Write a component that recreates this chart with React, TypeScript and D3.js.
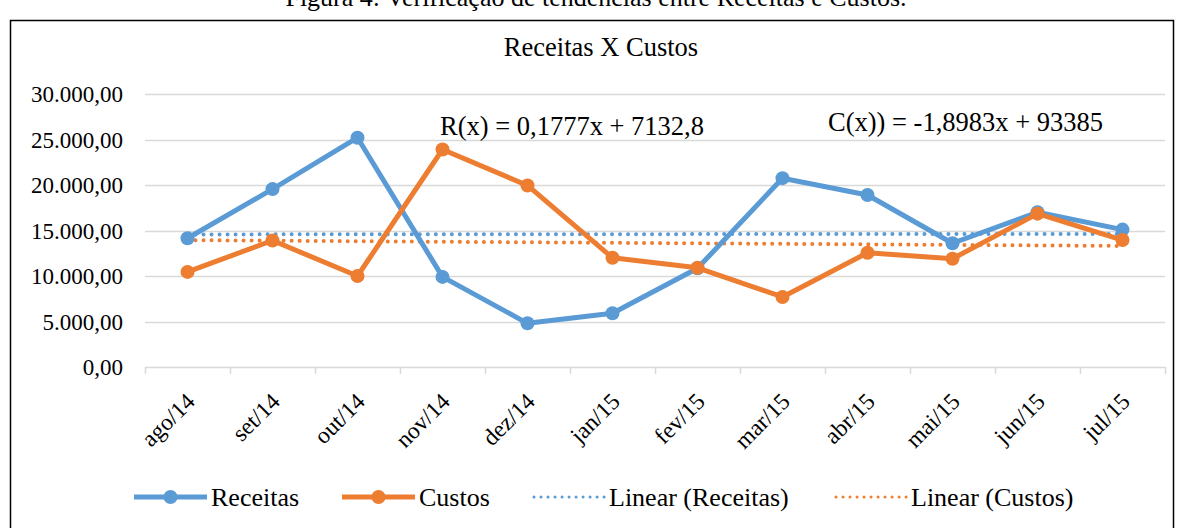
import React, { useRef, useEffect } from 'react';
import * as d3 from 'd3';

// chart data
const months = ['ago/14', 'set/14', 'out/14', 'nov/14', 'dez/14', 'jan/15', 'fev/15', 'mar/15', 'abr/15', 'mai/15', 'jun/15', 'jul/15'];
const receitas = [14150, 19550, 25200, 9900, 4800, 5900, 10850, 20750, 18900, 13600, 17000, 15100];
const custos = [10450, 13900, 10000, 23900, 19950, 12000, 10900, 7700, 12550, 11900, 16850, 13950];
const yTicks = [0, 5000, 10000, 15000, 20000, 25000, 30000];

// trend coefficients (x = Excel date serial)
const trendReceitas = [0.1777, 7132.8];
const trendCustos = [-1.8983, 93385];

const BLUE = '#5B9BD5';
const ORANGE = '#ED7D31';
const FONT = '"Liberation Serif", "Times New Roman", serif';

const App = () => {
  const ref = useRef<SVGSVGElement>(null);

  useEffect(() => {
    const svg = d3.select(ref.current);
    svg.selectAll('*').remove();

    const left = 145, right = 1165, top = 94, bottom = 367;

    const x = d3.scaleBand<string>().domain(months).range([left, right]).padding(0);
    const y = d3.scaleLinear().domain([0, 30000]).range([bottom, top]);
    const cx = (d: string) => (x(d) as number) + x.bandwidth() / 2;

    const fmt = (v: number) => d3.format(',.2f')(v).replace(/,/g, '#').replace('.', ',').replace(/#/g, '.');

    // excel serial for each month
    const serials = d3.utcMonth.range(new Date(Date.UTC(2014, 7, 1)), new Date(Date.UTC(2015, 7, 1)))
      .map((d) => (d.getTime() - Date.UTC(1899, 11, 30)) / 86400000);

    // caption and frame
    svg.append('text').attr('x', 596).attr('y', 6).attr('text-anchor', 'middle')
      .attr('font-size', 26).text('Figura 4: Verificação de tendências entre Receitas e Custos.');
    svg.append('rect').attr('x', 10.5).attr('y', 20.5).attr('width', 1163).attr('height', 530)
      .attr('fill', 'none').attr('stroke', '#000').attr('stroke-width', 1.5);

    svg.append('text').attr('x', 601).attr('y', 56).attr('text-anchor', 'middle')
      .attr('font-size', 26.5).text('Receitas X Custos');

    // gridlines
    svg.append('g').selectAll('line').data(yTicks).join('line')
      .attr('x1', left).attr('x2', right)
      .attr('y1', (d) => Math.round(y(d)) + 0.5).attr('y2', (d) => Math.round(y(d)) + 0.5)
      .attr('stroke', '#D9D9D9').attr('stroke-width', 1.5);

    // y labels
    svg.append('g').selectAll('text').data(yTicks).join('text')
      .attr('x', 123).attr('y', (d) => y(d)).attr('dy', '0.35em').attr('text-anchor', 'end')
      .attr('font-size', 23).text((d) => fmt(d));

    // x ticks at band edges
    const edges = months.map((m) => x(m) as number).concat([right]);
    svg.append('g').selectAll('line').data(edges).join('line')
      .attr('x1', (d) => Math.round(d) + 0.5).attr('x2', (d) => Math.round(d) + 0.5)
      .attr('y1', bottom).attr('y2', bottom + 7)
      .attr('stroke', '#D9D9D9').attr('stroke-width', 1.5);

    // x labels
    svg.append('g').selectAll('text').data(months).join('text')
      .attr('text-anchor', 'end').attr('font-size', 23.5)
      .attr('transform', (d) => `translate(${cx(d) + 3},${bottom + 30}) rotate(-45)`)
      .attr('dy', '0.35em')
      .text((d) => d);

    // trend lines
    const trend = (coef: number[]) => serials.map((s) => coef[0] * s + coef[1]);
    const line = d3.line<number>().x((_, i) => cx(months[i])).y((d) => y(d));
    [[trendReceitas, BLUE], [trendCustos, ORANGE]].forEach(([coef, color]) => {
      svg.append('path').attr('d', line(trend(coef as number[])) as string)
        .attr('fill', 'none').attr('stroke', color as string).attr('stroke-width', 4)
        .attr('stroke-linecap', 'round').attr('stroke-dasharray', '0.01 8');
    });

    // series
    [[receitas, BLUE], [custos, ORANGE]].forEach(([vals, color]) => {
      const v = vals as number[];
      svg.append('path').attr('d', line(v) as string)
        .attr('fill', 'none').attr('stroke', color as string).attr('stroke-width', 5)
        .attr('stroke-linejoin', 'round');
      svg.append('g').selectAll('circle').data(v).join('circle')
        .attr('cx', (_, i) => cx(months[i])).attr('cy', (d) => y(d)).attr('r', 7)
        .attr('fill', color as string);
    });

    // equations
    svg.append('text').attr('x', 440).attr('y', 135).attr('font-size', 26.5).text('R(x) = 0,1777x + 7132,8');
    svg.append('text').attr('x', 828).attr('y', 131).attr('font-size', 26.5).text('C(x)) = -1,8983x + 93385');

    // legend
    const ly = 497;
    const legend = svg.append('g');
    [
      { x1: 134, x2: 207, color: BLUE, dotted: false, label: 'Receitas' },
      { x1: 342, x2: 415, color: ORANGE, dotted: false, label: 'Custos' },
      { x1: 534, x2: 605, color: BLUE, dotted: true, label: 'Linear (Receitas)' },
      { x1: 836, x2: 907, color: ORANGE, dotted: true, label: 'Linear (Custos)' },
    ].forEach((it) => {
      const l = legend.append('line').attr('x1', it.x1).attr('x2', it.x2).attr('y1', ly).attr('y2', ly)
        .attr('stroke', it.color);
      if (it.dotted) {
        l.attr('stroke-width', 3).attr('stroke-linecap', 'round').attr('stroke-dasharray', '0.01 7');
      } else {
        l.attr('stroke-width', 5);
        legend.append('circle').attr('cx', (it.x1 + it.x2) / 2).attr('cy', ly).attr('r', 7).attr('fill', it.color);
      }
      legend.append('text').attr('x', it.x2 + 4).attr('y', ly).attr('dy', '0.35em')
        .attr('font-size', 26).text(it.label);
    });
  }, []);

  return (
    <svg
      ref={ref}
      width={1182}
      height={528}
      style={{ position: 'absolute', left: 0, top: 0, fontFamily: FONT, background: '#fff' }}
    />
  );
};

export default App;
